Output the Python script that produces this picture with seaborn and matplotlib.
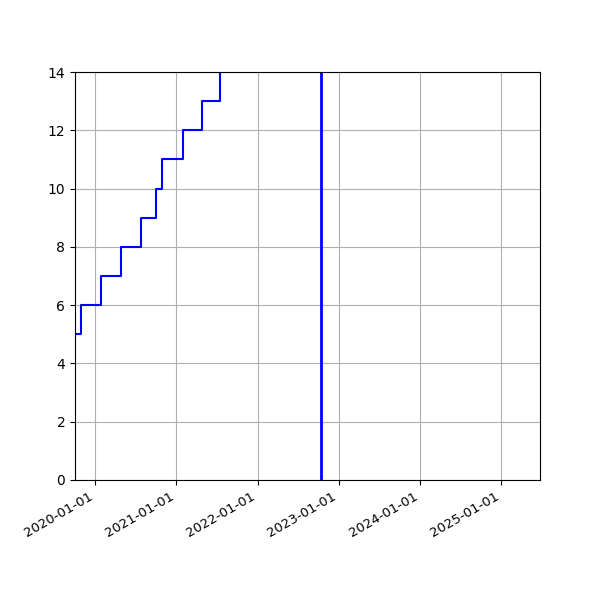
import matplotlib
matplotlib.use("Agg")
import matplotlib.pyplot as plt
import matplotlib.dates as mdates
import numpy as np
import pandas as pd
import seaborn as sns

# step data (value holds until the next date)
dates = ["2019-09-01", "2019-10-28", "2020-01-29", "2020-04-27", "2020-07-27",
         "2020-09-30", "2020-10-27", "2021-01-30", "2021-04-27", "2021-07-15"]
values = [5, 6, 7, 8, 9, 10, 11, 12, 13, 15]
marker_date = "2022-10-15"
x_range = ["2019-10-03", "2025-06-24"]
y_range = [0, 14]

df = pd.DataFrame({"date": pd.to_datetime(dates), "value": values})

fig, ax = plt.subplots(figsize=(6, 6), dpi=100)
sns.lineplot(data=df, x="date", y="value", ax=ax, color="blue",
             drawstyle="steps-post", estimator=None, linewidth=1.5)
ax.axvline(pd.to_datetime(marker_date), color="blue", linewidth=2)

ax.set_xlim(pd.to_datetime(x_range[0]), pd.to_datetime(x_range[1]))
ax.set_ylim(*y_range)
ax.xaxis.set_major_locator(mdates.YearLocator())
ax.xaxis.set_major_formatter(mdates.DateFormatter("%Y-%m-%d"))
ax.tick_params(axis="x", labelsize=9.5)
ax.set_xlabel("")
ax.set_ylabel("")
ax.grid(True)
fig.autofmt_xdate()

fig.savefig("out.png")
